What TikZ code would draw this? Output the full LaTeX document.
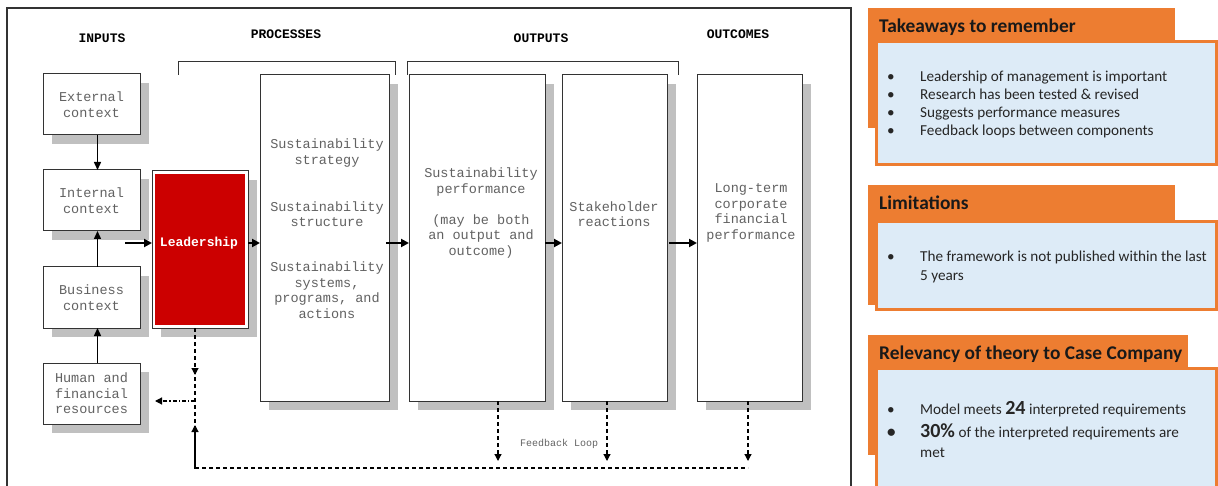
\documentclass[tikz,border=0pt]{standalone}
\usepackage{fontspec}
\setmainfont{Carlito}
\newfontfamily\mono{Liberation Mono}
\usetikzlibrary{arrows.meta,shadows,calc}

\definecolor{accent}{HTML}{ED7D31}
\definecolor{panel}{HTML}{DDEBF7}
\definecolor{leadred}{HTML}{CC0000}
\definecolor{boxtext}{HTML}{626262}
\definecolor{shadowgray}{HTML}{C0C0C0}
\definecolor{framegray}{HTML}{333333}

\tikzset{
  box/.style={draw=framegray, line width=1pt, fill=white, inner sep=0pt, outer sep=0pt,
    anchor=north west,
    drop shadow={shadow xshift=9pt, shadow yshift=-9pt, fill=shadowgray, opacity=1}},
  boxtxt/.style={font=\mono\fontsize{13.5}{15.5}\selectfont, text=boxtext, align=center, inner sep=0pt},
  colhead/.style={font=\mono\bfseries\fontsize{13}{15}\selectfont, inner sep=0pt},
  flow/.style={-{Triangle[length=8pt,width=8pt]}, line width=2pt, black},
  uparrow/.style={-{Triangle[length=8pt,width=7pt]}, line width=1.4pt, black},
  fbline/.style={line width=1.2pt, dash pattern=on 4pt off 3pt},
  fb/.style={fbline, -{Triangle[length=7pt,width=7pt]}},
  bracket/.style={line width=1pt, framegray},
  orangebox/.style={fill=accent, draw=none, inner sep=0pt, outer sep=0pt, anchor=north west},
  bluebox/.style={fill=panel, draw=accent, line width=3pt, inner sep=0pt, outer sep=0pt, anchor=north west},
  hdr/.style={font=\bfseries\fontsize{19.4}{22}\selectfont, text=black!90, inner sep=0pt, anchor=west},
  body/.style={font=\fontsize{15.2}{18}\selectfont, text=black!85, inner sep=0pt, anchor=base west},
}

\begin{document}
\begin{tikzpicture}[x=1pt,y=-1pt]
\useasboundingbox (0,0) rectangle (1218,486);

% ---------- framework diagram ----------
\draw[line width=1.3pt, framegray] (7,8) rectangle (851,495);

\node[colhead] (hin)  at (102,38) {INPUTS};
\node[colhead] (hpro) at (286,34) {PROCESSES};
\node[colhead] (hout) at (541,38) {OUTPUTS};
\node[colhead] (hoc)  at (738,34) {OUTCOMES};

\draw[bracket] (178,75) -- (178,62) -- (395,62) -- (395,75);
\draw[bracket] (407,75) -- (407,62) -- (678,62) -- (678,75);

% input column
\node[box, minimum width=97pt, minimum height=61pt] (ext) at (43,74)  {};
\node[box, minimum width=97pt, minimum height=61pt] (int) at (43,170) {};
\node[box, minimum width=97pt, minimum height=61pt] (bus) at (43,267) {};
\node[box, minimum width=97pt, minimum height=61pt] (hum) at (43,363) {};
\node[boxtxt] (ext-t) at (ext) {External\\context};
\node[boxtxt] (int-t) at (int) {Internal\\context};
\node[boxtxt] (bus-t) at (bus) {Business\\context};
\node[boxtxt] (hum-t) at (hum) {Human and\\financial\\resources};

% leadership
\node[box, minimum width=96pt, minimum height=157pt] (lead) at (152,171) {};
\fill[leadred] ([shift={(3,3)}]lead.north west) rectangle ([shift={(-3,-3)}]lead.south east);
\node[font=\mono\bfseries\fontsize{13}{15}\selectfont, text=white, inner sep=0pt] (lead-t) at (199,243) {Leadership};

% processes, outputs, outcomes
\node[box, minimum width=129pt, minimum height=326pt] (strat) at (260,75) {};
\node[box, minimum width=136pt, minimum height=326pt] (perf)  at (409,75) {};
\node[box, minimum width=105pt, minimum height=326pt] (stake) at (562,75) {};
\node[box, minimum width=105pt, minimum height=326pt] (lt)    at (697,75) {};

\node[boxtxt] (s1) at (327,153) {Sustainability\\strategy};
\node[boxtxt] (s2) at (327,214) {Sustainability\\structure};
\node[boxtxt] (s3) at (327,290) {Sustainability\\systems,\\programs, and\\actions};
\node[boxtxt] (perf-t)  at (481,213) {Sustainability\\performance\\[15.5pt] (may be both\\an output and\\outcome)};
\node[boxtxt] (stake-t) at (614,214) {Stakeholder\\reactions};
\node[boxtxt] (lt-t)    at (751,213) {Long-term\\corporate\\financial\\performance};

% main flow
\draw[uparrow] ([xshift=6pt]ext.south) -- ([xshift=6pt]int.north);
\draw[uparrow] ([xshift=6pt]bus.north) -- ([xshift=6pt]int.south);
\draw[uparrow] ([xshift=6pt]hum.north) -- ([xshift=6pt]bus.south);

\coordinate (in) at (125,243);
\draw[flow] (in) -- (lead.west |- lead-t);
\draw[flow] (lead.east |- lead-t) -- (strat.west |- lead-t);
\draw[flow] ([xshift=-3pt]strat.east |- lead-t) -- (perf.west |- lead-t);
\draw[flow] (perf.east |- lead-t) -- (stake.west |- lead-t);
\draw[flow] ([xshift=2pt]stake.east |- lead-t) -- (lt.west |- lead-t);

% feedback loop
\coordinate (fbL) at (195,468);
\coordinate (fbR) at (748,468);
\coordinate (fbA) at (195,375);
\coordinate (fbB) at (195,425);
\coordinate (fbC) at (195,401);
\coordinate (humR) at (155,401);
\coordinate (fbP) at (498,461);
\coordinate (fbS) at (607,461);
\coordinate (fbT) at (748,461);

\draw[fbline] (lead.south -| fbL) -- (fbL) -- (fbR);
\draw[fb] (lead.south -| fbL) -- (fbA);
\draw[fb] (fbL) -- (fbB);
\draw[fb, dash pattern=on 4pt off 2pt on 1.2pt off 2pt] (fbC) -- (humR);
\draw[fb] (perf.south -| fbP) -- (fbP);
\draw[fb] (stake.south -| fbS) -- (fbS);
\draw[fb] (lt.south -| fbT) -- (fbT);
\node[font=\mono\fontsize{10}{12}\selectfont, text=boxtext, inner sep=0pt] (fbl) at (559,444) {Feedback Loop};

% ---------- side panels ----------
\node[orangebox, minimum width=307pt, minimum height=120pt] (h1) at (868,8) {};
\node[bluebox, minimum width=340pt, minimum height=123pt] (b1) at (876,42) {};
\node[hdr] (h1t) at (879,27) {Takeaways to remember};
\foreach \y/\t [count=\i] in {81.5/Leadership of management is important,
                              99.5/Research has been tested \& revised,
                              117.5/Suggests performance measures,
                              135.5/Feedback loops between components}{
  \node[body] (b1d\i) at (887,\y) {\textbullet};
  \node[body] (b1l\i) at (920,\y) {\t};
}

\node[orangebox, minimum width=307pt, minimum height=120pt] (h2) at (868,185) {};
\node[bluebox, minimum width=340pt, minimum height=88pt] (b2) at (876,222) {};
\node[hdr] (h2t) at (879,203) {Limitations};
\node[body] (b2d1) at (887,261.5) {\textbullet};
\node[body] (b2l1) at (920,261.5) {The framework is not published within the last};
\node[body] (b2l2) at (920,280.5) {5 years};

\node[orangebox, minimum width=320pt, minimum height=120pt] (h3) at (868,335) {};
\node[bluebox, minimum width=340pt, minimum height=135pt] (b3) at (876,368) {};
\node[hdr] (h3t) at (879,354) {Relevancy of theory to Case Company};
\node[body] (b3d1) at (887,414.5) {\textbullet};
\node[body] (b3l1) at (920,414.5) {Model meets {\bfseries\fontsize{20}{20}\selectfont 24} interpreted requirements};
\node[body] (b3d2) at (887,437.5) {\bfseries\fontsize{17}{18}\selectfont\textbullet};
\node[body] (b3l2) at (920,437.5) {{\bfseries\fontsize{20}{20}\selectfont 30\%} of the interpreted requirements are};
\node[body] (b3l3) at (920,457.5) {met};
\end{tikzpicture}
\end{document}
